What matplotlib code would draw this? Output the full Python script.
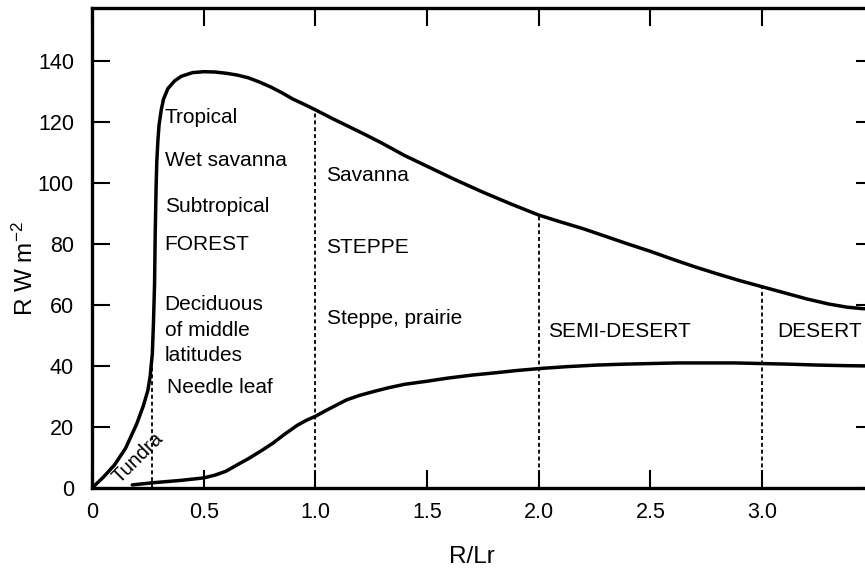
import numpy as np
import matplotlib
matplotlib.use("Agg")
import matplotlib.pyplot as plt

plt.rcParams["font.family"] = ["Liberation Sans", "DejaVu Sans"]
plt.rcParams["mathtext.fontset"] = "custom"
plt.rcParams["mathtext.rm"] = "Liberation Sans"
plt.rcParams["mathtext.default"] = "regular"

# upper curve: radiation balance R
upper_x = [0.00, 0.05, 0.10, 0.15, 0.20, 0.23, 0.25, 0.26, 0.27, 0.275,
           0.28, 0.283, 0.287, 0.29, 0.295, 0.30, 0.31, 0.32, 0.34, 0.37,
           0.40, 0.45, 0.50, 0.55, 0.60, 0.65, 0.70, 0.75, 0.80, 0.85,
           0.90, 0.95, 1.00, 1.08, 1.15, 1.22, 1.30, 1.40, 1.50, 1.62,
           1.75, 1.88, 2.00, 2.10, 2.20, 2.30, 2.40, 2.50, 2.60, 2.70,
           2.80, 2.90, 3.00, 3.10, 3.20, 3.30, 3.38, 3.45, 3.50]
upper_y = [0.0, 3.5, 7.5, 13.0, 21.0, 27.0, 32.0, 36.5, 44.0, 54.0,
           67.0, 84.0, 99.0, 107.0, 114.0, 119.0, 124.0, 127.5, 131.0, 133.5,
           135.0, 136.2, 136.5, 136.4, 136.0, 135.4, 134.5, 133.1, 131.5, 129.6,
           127.5, 125.8, 124.0, 121.0, 118.5, 116.0, 113.0, 109.0, 105.5, 101.3,
           97.0, 93.0, 89.5, 87.2, 85.0, 82.5, 80.0, 77.6, 75.0, 72.5,
           70.2, 68.0, 66.0, 64.0, 62.0, 60.3, 59.3, 58.8, 58.7]

# lower curve
lower_x = [0.18, 0.27, 0.40, 0.50, 0.55, 0.60, 0.66, 0.70, 0.76, 0.81,
           0.86, 0.92, 0.96, 1.00, 1.05, 1.14, 1.20, 1.27, 1.33, 1.40,
           1.50, 1.59, 1.70, 1.81, 1.90, 2.01, 2.13, 2.26, 2.38, 2.50,
           2.62, 2.75, 2.88, 3.00, 3.12, 3.25, 3.38, 3.50]
lower_y = [1.0, 1.7, 2.5, 3.3, 4.2, 5.5, 8.0, 9.6, 12.3, 14.7,
           17.5, 20.6, 22.2, 23.5, 25.5, 28.9, 30.4, 31.8, 32.9, 34.0,
           35.0, 36.0, 37.0, 37.8, 38.5, 39.2, 39.8, 40.3, 40.6, 40.8,
           41.0, 41.0, 41.0, 40.8, 40.6, 40.3, 40.1, 40.0]

# zone boundaries (dashed verticals)
bounds = [0.27, 1.0, 2.0, 3.0]

# zone labels: (text, x, y)
zone_labels = [
    ("Tropical", 0.325, 121.5),
    ("Wet savanna", 0.325, 107.5),
    ("Subtropical", 0.325, 92.2),
    ("FOREST", 0.325, 79.7),
    ("Deciduous", 0.325, 60.0),
    ("of middle", 0.325, 51.8),
    ("latitudes", 0.325, 43.6),
    ("Needle leaf", 0.335, 32.8),
    ("Savanna", 1.05, 102.3),
    ("STEPPE", 1.05, 78.7),
    ("Steppe, prairie", 1.05, 55.7),
    ("SEMI-DESERT", 2.04, 51.3),
    ("DESERT", 3.07, 51.3),
]

xticks = [0, 0.5, 1.0, 1.5, 2.0, 2.5, 3.0]
xticklabels = ["0", "0.5", "1.0", "1.5", "2.0", "2.5", "3.0"]
yticks = [0, 20, 40, 60, 80, 100, 120, 140]

fig = plt.figure(figsize=(8.65, 5.69), dpi=100)
ax = fig.add_axes([0.1064, 0.1424, 0.9036, 0.8436])

ax.plot(upper_x, upper_y, color="black", lw=2.5, solid_capstyle="round",
        solid_joinstyle="round")
ax.plot(lower_x, lower_y, color="black", lw=2.5, solid_capstyle="round",
        solid_joinstyle="round")

for b in bounds:
    top = np.interp(b, upper_x, upper_y)
    ax.plot([b, b], [0, top], color="black", lw=1.3, ls=(0, (2.2, 1.6)))

for txt, x, y in zone_labels:
    ax.text(x, y, txt, fontsize=15, ha="left", va="center")

ax.text(0.207, 10.0, "Tundra", fontsize=14.5, rotation=45,
        ha="center", va="center")

ax.set_xlim(0, 3.5)
ax.set_ylim(0, 157.4)
ax.set_xticks(xticks)
ax.set_xticklabels(xticklabels)
ax.set_yticks(yticks)

ax.tick_params(direction="in", length=13, width=1.5, top=True, right=True,
               labelsize=15.5)
ax.tick_params(axis="x", pad=10)
ax.tick_params(axis="y", pad=13)

for side in ["left", "bottom", "top"]:
    ax.spines[side].set_linewidth(2.4)
ax.spines["right"].set_visible(False)

ax.set_xlabel("R/Lr", fontsize=17.5, va="center")
ax.xaxis.set_label_coords(0.486, -0.143)
ax.set_ylabel("R W m$^{-2}$", fontsize=17.5, va="center")
ax.yaxis.set_label_coords(-0.0857, 0.458)

fig.savefig("out.png", dpi=100)
